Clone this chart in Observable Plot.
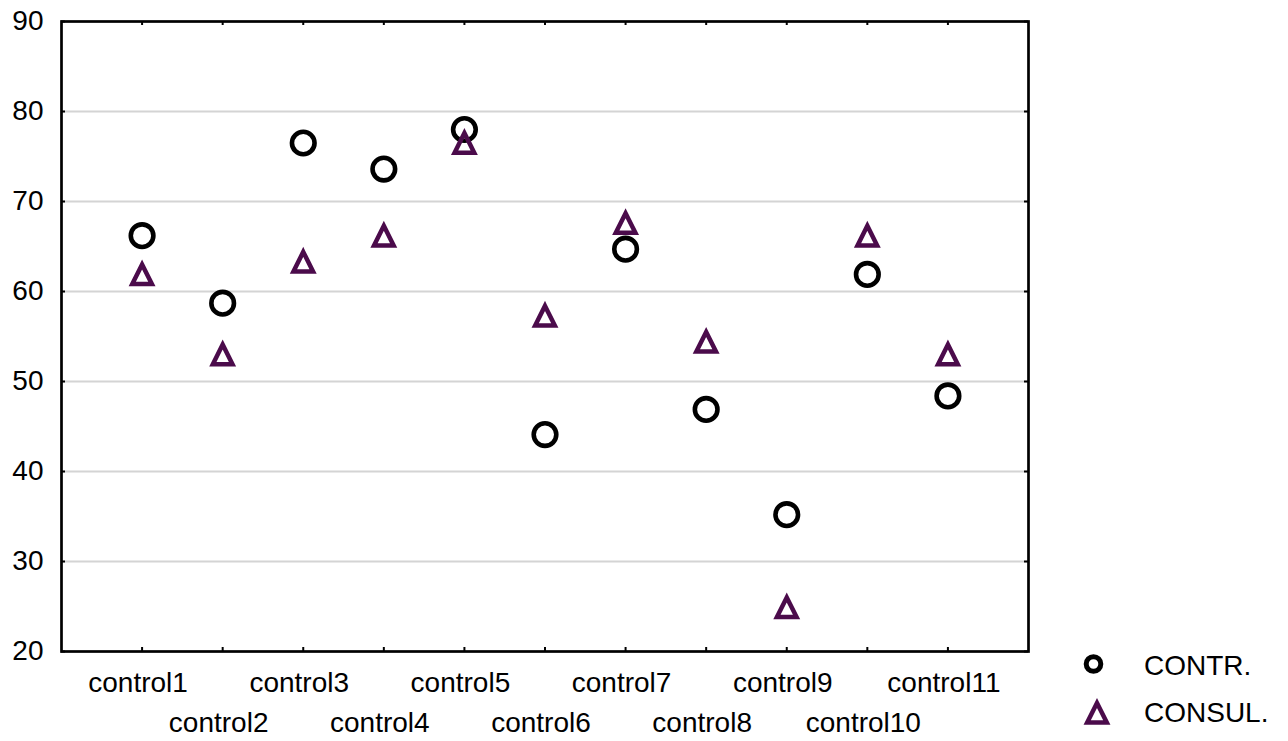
<!DOCTYPE html>
<html>
<head>
<meta charset="utf-8">
<script src="https://cdn.jsdelivr.net/npm/d3@7"></script>
<script src="https://cdn.jsdelivr.net/npm/@observablehq/plot@0.6"></script>
<style>
  html, body { margin: 0; padding: 0; background: #fff; }
  #chart { position: relative; width: 1288px; height: 741px; }
</style>
</head>
<body>
<div id="chart"></div>
<script>
// Categories and the two series
const categories = ["control1", "control2", "control3", "control4", "control5", "control6",
                    "control7", "control8", "control9", "control10", "control11"];
const contr  = [66.2, 58.7, 76.5, 73.6, 78.0, 44.1, 64.7, 46.9, 35.2, 61.9, 48.4];
const consul = [62.0, 53.1, 63.4, 66.3, 76.6, 57.4, 67.7, 54.5, 25.0, 66.3, 53.1];
const seriesNames = ["CONTR.", "CONSUL."];
const yTicks = [20, 30, 40, 50, 60, 70, 80, 90];
const gridTicks = [30, 40, 50, 60, 70, 80];

const W = 1288, H = 741;
const margin = {left: 61, right: 260, top: 21, bottom: 90};
const innerW = W - margin.left - margin.right;
const innerH = H - margin.top - margin.bottom;
const font = "'Liberation Sans', Arial, sans-serif";
const fs = 28;
const purple = "#4b0b4b";

// Upright open triangle, centred on its bounding box
const triangle = {
  draw(ctx, size) {
    const r = Math.sqrt(size / Math.PI);
    ctx.moveTo(0, -0.92 * r);
    ctx.lineTo(1.0 * r, 1.08 * r);
    ctx.lineTo(-1.0 * r, 1.08 * r);
    ctx.closePath();
  }
};

const rowsContr = categories.map((c, i) => ({cat: c, value: contr[i]}));
const rowsConsul = categories.map((c, i) => ({cat: c, value: consul[i]}));

const chart = Plot.plot({
  width: W,
  height: H,
  marginLeft: margin.left,
  marginRight: margin.right,
  marginTop: margin.top,
  marginBottom: margin.bottom,
  style: {fontFamily: font, fontSize: fs + "px", color: "black", background: "white"},
  x: {type: "point", domain: categories, padding: 1, round: false, axis: null},
  y: {domain: [20, 90], axis: null},
  marks: [
    Plot.gridY(gridTicks, {stroke: "#d4d4d4", strokeOpacity: 1, strokeWidth: 2}),
    // inward tick marks on all four sides
    Plot.tickX(categories, {x: d => d, stroke: "black", strokeWidth: 2, insetTop: innerH - 4}),
    Plot.tickX(categories, {x: d => d, stroke: "black", strokeWidth: 2, insetBottom: innerH - 4}),
    Plot.tickY(yTicks, {y: d => d, stroke: "black", strokeWidth: 2, insetRight: innerW - 4}),
    Plot.tickY(yTicks, {y: d => d, stroke: "black", strokeWidth: 2, insetLeft: innerW - 4}),
    Plot.frame({stroke: "black", strokeWidth: 2.7}),
    Plot.axisY(yTicks, {tickSize: 0, tickPadding: 18, fontSize: fs, fill: "black", label: null}),
    // staggered category labels
    Plot.text(categories.filter((d, i) => i % 2 === 0), {
      x: d => d, text: d => d, frameAnchor: "bottom", lineAnchor: "top",
      dx: -4, dy: 21, fontSize: fs, fill: "black"
    }),
    Plot.text(categories.filter((d, i) => i % 2 === 1), {
      x: d => d, text: d => d, frameAnchor: "bottom", lineAnchor: "top",
      dx: -4, dy: 61, fontSize: fs, fill: "black"
    }),
    Plot.dot(rowsContr, {x: "cat", y: "value", r: 11.3, stroke: "black", strokeWidth: 4.6, fill: "none"}),
    Plot.dot(rowsConsul, {x: "cat", y: "value", r: 9.8, symbol: triangle, stroke: purple,
                          strokeWidth: 4.5, fill: "none", strokeLinejoin: "miter"})
  ]
});

document.getElementById("chart").appendChild(chart);

// Legend in the lower right corner
const svg = d3.select(chart);
const legend = svg.append("g")
  .attr("font-family", font)
  .attr("font-size", fs)
  .attr("text-anchor", "start");
const items = [
  {name: seriesNames[0], sym: d3.symbol(d3.symbolCircle, Math.PI * 7.3 * 7.3)(), stroke: "black", sw: 5, cx: 1093.5, cy: 664, ty: 675},
  {name: seriesNames[1], sym: d3.symbol(triangle, Math.PI * 9.8 * 9.8)(), stroke: purple, sw: 4.5, cx: 1097, cy: 712, ty: 722}
];
items.forEach(it => {
  legend.append("path")
    .attr("d", it.sym)
    .attr("transform", `translate(${it.cx},${it.cy})`)
    .attr("fill", "none")
    .attr("stroke", it.stroke)
    .attr("stroke-width", it.sw)
    .attr("stroke-linejoin", "miter");
  legend.append("text")
    .attr("x", 1144)
    .attr("y", it.ty)
    .attr("fill", "black")
    .text(it.name);
});
</script>
</body>
</html>
